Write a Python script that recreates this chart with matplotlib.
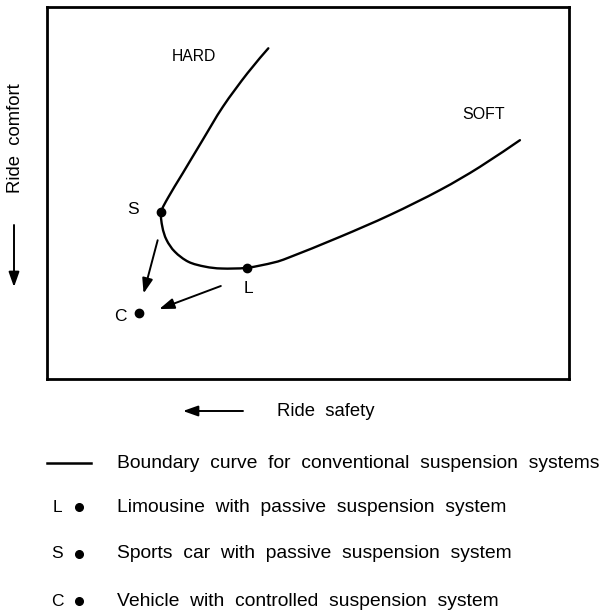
import matplotlib
matplotlib.use("Agg")
import matplotlib.pyplot as plt
from matplotlib.path import Path
from matplotlib.patches import PathPatch

plt.rcParams['font.family'] = ['Liberation Sans', 'DejaVu Sans']

# Boundary curve (ride safety x, ride comfort y), arbitrary units 0-100
curve_x = [42.4, 38.4, 33.7, 29.8, 26.0, 23.3, 21.9, 22.1, 22.9, 24.5, 27.1, 30.3,
           33.5, 38.3, 43.4, 46.6, 56.1, 65.7, 75.3, 82.9, 90.6]
curve_y = [88.9, 82.2, 73.2, 64.2, 55.3, 49.0, 44.9, 40.9, 37.4, 34.2, 31.5, 30.2,
           29.7, 29.9, 31.3, 32.8, 38.2, 44.1, 50.8, 57.0, 64.2]

point_names = ['S', 'L', 'C']
point_x = [21.9, 38.3, 17.6]
point_y = [44.9, 29.9, 17.7]

legend_labels = ['Boundary  curve  for  conventional  suspension  systems',
                 'Limousine  with  passive  suspension  system',
                 'Sports  car  with  passive  suspension  system',
                 'Vehicle  with  controlled  suspension  system']
legend_keys = ['', 'L', 'S', 'C']

W, H = 611, 615
fig = plt.figure(figsize=(W / 100, H / 100), dpi=100)
fig.patch.set_facecolor('white')


def fpos(x, y):
    return x / W, 1 - y / H


ax = fig.add_axes([47 / W, 1 - 379 / H, 522 / W, 372 / H])
ax.set_xlim(0, 100)
ax.set_ylim(0, 100)
ax.set_xticks([])
ax.set_yticks([])
for s in ax.spines.values():
    s.set_linewidth(2.0)
    s.set_color('black')

# smooth path through the read points (Catmull-Rom rendered as cubic Beziers)
pts = list(zip(curve_x, curve_y))
verts = [pts[0]]
codes = [Path.MOVETO]
n = len(pts)
for i in range(n - 1):
    p0 = pts[i - 1] if i > 0 else pts[i]
    p1 = pts[i]
    p2 = pts[i + 1]
    p3 = pts[i + 2] if i + 2 < n else pts[i + 1]
    c1 = (p1[0] + (p2[0] - p0[0]) / 6, p1[1] + (p2[1] - p0[1]) / 6)
    c2 = (p2[0] - (p3[0] - p1[0]) / 6, p2[1] - (p3[1] - p1[1]) / 6)
    verts += [c1, c2, p2]
    codes += [Path.CURVE4] * 3
ax.add_patch(PathPatch(Path(verts, codes), fill=False, edgecolor='black', lw=1.7,
                       capstyle='round', joinstyle='round'))
ax.plot(point_x, point_y, 'o', color='black', ms=6)

# point labels
lab_off = {'S': (-5.5, 0.6), 'L': (0.3, -5.5), 'C': (-3.6, -0.9)}
for nme, x, y in zip(point_names, point_x, point_y):
    dx, dy = lab_off[nme]
    ax.text(x + dx, y + dy, nme, fontsize=12.5, ha='center', va='center')

ax.text(28.2, 86.8, 'HARD', fontsize=11.3, ha='center', va='center')
ax.text(83.7, 71.0, 'SOFT', fontsize=11.5, ha='center', va='center')

# arrows towards C
arr = dict(arrowstyle='-|>,head_length=0.9,head_width=0.32', color='black', lw=1.4,
           shrinkA=0, shrinkB=0)
ax.annotate('', xy=(18.5, 23.0), xytext=(21.2, 37.3), arrowprops=arr)
ax.annotate('', xy=(21.5, 18.8), xytext=(33.3, 25.0), arrowprops=arr)

# axis descriptions
fig.text(*fpos(16, 138), 'Ride  comfort', rotation=90, fontsize=13.3,
         ha='center', va='center')
ax.annotate('', xy=fpos(14, 287), xytext=fpos(14, 225), xycoords='figure fraction',
            textcoords='figure fraction', arrowprops=arr, annotation_clip=False)
fig.text(*fpos(277, 411), 'Ride  safety', fontsize=13.3, ha='left', va='center')
ax.annotate('', xy=fpos(183, 411), xytext=fpos(243, 411), xycoords='figure fraction',
            textcoords='figure fraction', arrowprops=arr, annotation_clip=False)

# legend
rows_y = [463, 507, 554, 601]
for key, label, ry in zip(legend_keys, legend_labels, rows_y):
    if key == '':
        fig.add_artist(plt.Line2D([47 / W, 91 / W], [1 - ry / H, 1 - ry / H],
                                  color='black', lw=1.8))
    else:
        fig.text(*fpos(57, ry), key, fontsize=12.5, ha='center', va='center')
        fig.add_artist(plt.Line2D([79 / W], [1 - ry / H], marker='o', color='black',
                                  ms=5.5))
    fig.text(*fpos(117, ry), label, fontsize=13.9, ha='left', va='center')

fig.savefig('out.png', dpi=100, facecolor='white')
